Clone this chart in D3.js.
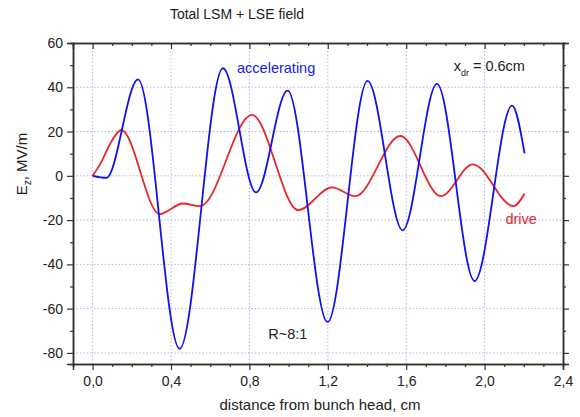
<!DOCTYPE html>
<html>
<head>
<meta charset="utf-8">
<script src="https://cdn.jsdelivr.net/npm/d3@7"></script>
<style>
  body { margin: 0; background: #fff; }
  svg { display: block; font-family: "Liberation Sans", Arial, sans-serif; }
  .grid line { stroke: #b4b4f0; stroke-width: 1; stroke-dasharray: 1.5,2; }
  .axis path, .axis line { stroke: #333; }
  .axis text { fill: #222; font-size: 14px; }
</style>
</head>
<body>
<div id="chart"></div>
<script>
// accelerating field (blue) at its turning points
const accelX = [0, 0.07, 0.232, 0.444, 0.665, 0.834, 0.995, 1.199, 1.403, 1.582, 1.757, 1.949, 2.14, 2.204];
const accelY = [0, -0.9, 43.6, -78.1, 48.6, -7.5, 38.5, -66, 42.9, -24.6, 41.5, -47.5, 31.7, 10.1];

// drive field (red)
const driveX = [0, 0.04, 0.09, 0.146, 0.342, 0.461, 0.549, 0.813, 1.05, 1.221, 1.34, 1.57, 1.777, 1.94, 2.148, 2.204];
const driveY = [0, 5.5, 14.5, 20.7, -17.3, -12.5, -13.7, 27.5, -15.5, -5.2, -9.2, 18, -9.2, 5.2, -13.7, -8];

const xTicks = [0, 0.4, 0.8, 1.2, 1.6, 2.0, 2.4];
const yTicks = [-80, -60, -40, -20, 0, 20, 40, 60];

const width = 580, height = 417;
const margin = { top: 43, right: 17, bottom: 53, left: 73 };

const x = d3.scaleLinear().domain([-0.1, 2.4]).range([margin.left, width - margin.right]);
const y = d3.scaleLinear().domain([-85, 60]).range([height - margin.bottom, margin.top]);

const locale = d3.formatLocale({ decimal: ",", thousands: ".", grouping: [3], currency: ["", ""], minus: "-" });
const fmtX = locale.format(".1f");
const fmtY = locale.format("d");

const xMinor = d3.range(-0.1, 2.401, 0.1).map((d) => +d.toFixed(1)).filter((d) => !xTicks.includes(d));
const yMinor = d3.range(-80, 61, 10).filter((d) => !yTicks.includes(d));

const svg = d3.select("#chart").append("svg").attr("width", width).attr("height", height);

// dotted grid at major ticks
const grid = svg.append("g").attr("class", "grid");
grid.selectAll(".gx")
  .data(xTicks.filter((d) => d < 2.4))
  .join("line")
  .attr("x1", (d) => x(d)).attr("x2", (d) => x(d))
  .attr("y1", y.range()[0]).attr("y2", y.range()[1]);
grid.selectAll(".gy")
  .data(yTicks.filter((d) => d < 60))
  .join("line")
  .attr("y1", (d) => y(d)).attr("y2", (d) => y(d))
  .attr("x1", x.range()[0]).attr("x2", x.range()[1]);

// axes
const gBottom = svg.append("g").attr("class", "axis").attr("transform", `translate(0,${y.range()[0]})`);
gBottom.call(d3.axisBottom(x).tickValues(xTicks).tickSize(6).tickPadding(6).tickFormat(fmtX));
gBottom.append("g").call(d3.axisBottom(x).tickValues(xMinor).tickSize(3).tickFormat(""));

const gLeft = svg.append("g").attr("class", "axis").attr("transform", `translate(${x.range()[0]},0)`);
gLeft.call(d3.axisLeft(y).tickValues(yTicks).tickSize(6).tickPadding(4).tickFormat(fmtY));
gLeft.append("g").call(d3.axisLeft(y).tickValues(yMinor).tickSize(3).tickFormat(""));

const gRight = svg.append("g").attr("class", "axis").attr("transform", `translate(${x.range()[1]},0)`);
gRight.call(d3.axisRight(y).tickValues(yTicks).tickSize(6).tickFormat(""));
gRight.append("g").call(d3.axisRight(y).tickValues(yMinor).tickSize(3).tickFormat(""));

const gTop = svg.append("g").attr("class", "axis").attr("transform", `translate(0,${y.range()[1]})`);
gTop.call(d3.axisBottom(x).tickValues(xTicks).tickSize(6).tickFormat(""));
gTop.append("g").call(d3.axisBottom(x).tickValues(xMinor).tickSize(3).tickFormat(""));

svg.selectAll(".axis path.domain").attr("stroke-width", 1.5);
svg.selectAll(".axis .tick line").attr("stroke-width", 1.2);

// curves
const line = d3.line().x((d) => x(d[0])).y((d) => y(d[1])).curve(d3.curveMonotoneX);

svg.append("path")
  .datum(driveX.map((d, i) => [d, driveY[i]]))
  .attr("fill", "none")
  .attr("stroke", "#e8262b")
  .attr("stroke-width", 1.8)
  .attr("d", line);

svg.append("path")
  .datum(accelX.map((d, i) => [d, accelY[i]]))
  .attr("fill", "none")
  .attr("stroke", "#1010f0")
  .attr("stroke-width", 1.8)
  .attr("d", line);

// texts
svg.append("text")
  .attr("x", 237).attr("y", 19)
  .attr("text-anchor", "middle")
  .attr("font-size", 14).attr("fill", "#222")
  .text("Total LSM + LSE field");

svg.append("text")
  .attr("x", x(0.737)).attr("y", y(46.5))
  .attr("font-size", 14.5).attr("fill", "#1a1ae8")
  .text("accelerating");

svg.append("text")
  .attr("x", x(2.106)).attr("y", y(-21.9))
  .attr("font-size", 14.5).attr("fill", "#e8262b")
  .text("drive");

svg.append("text")
  .attr("x", x(0.896)).attr("y", y(-73.9))
  .attr("font-size", 14.5).attr("fill", "#222")
  .text("R~8:1");

const xdr = svg.append("text")
  .attr("x", x(1.842)).attr("y", y(47.5))
  .attr("font-size", 14.5).attr("fill", "#222");
xdr.append("tspan").text("x");
xdr.append("tspan").attr("font-size", 9).attr("dy", 5).text("dr");
xdr.append("tspan").attr("dy", -5).text(" = 0.6cm");

svg.append("text")
  .attr("x", 320).attr("y", 410)
  .attr("text-anchor", "middle")
  .attr("font-size", 15).attr("fill", "#222")
  .text("distance from bunch head, cm");

const yl = svg.append("text")
  .attr("transform", "translate(27,164) rotate(-90)")
  .attr("text-anchor", "middle")
  .attr("font-size", 15).attr("fill", "#222");
yl.append("tspan").text("E");
yl.append("tspan").attr("font-size", 10).attr("dy", 4).text("z");
yl.append("tspan").attr("dy", -4).text(", MV/m");
</script>
</body>
</html>
